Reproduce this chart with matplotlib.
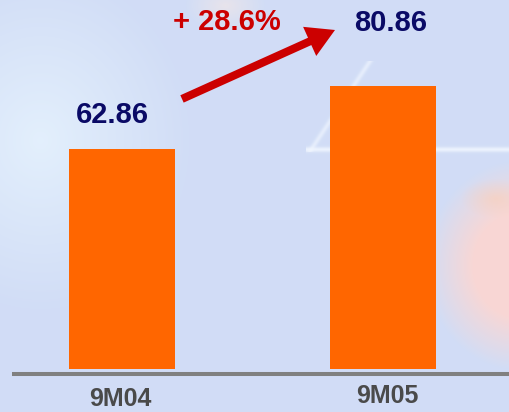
import numpy as np
import matplotlib
matplotlib.use("Agg")
import matplotlib.pyplot as plt
from matplotlib.patches import FancyArrowPatch

categories = ["9M04", "9M05"]
values = [62.86, 80.86]
value_labels = ["62.86", "80.86"]
growth_label = "+ 28.6%"

W, H = 510, 412
fig = plt.figure(figsize=(W / 100, H / 100), dpi=100)
ax = fig.add_axes([0, 0, 1, 1])

# data-space layout: bar centres at x=0,1 ; 3.5 px per unit
px_per_x = 261.5
px_per_y = 3.5
x0_px = 122
base_px = 369
xmin = -x0_px / px_per_x
xmax = xmin + W / px_per_x
ymin = -(H - base_px) / px_per_y
ymax = ymin + H / px_per_y
ax.set_xlim(xmin, xmax)
ax.set_ylim(ymin, ymax)
ax.axis("off")

# decorative background
yy, xx = np.mgrid[0:H, 0:W].astype(float)
img = np.ones((H, W, 3)) * np.array([0.82, 0.866, 0.965])
def blend(img, mask, col, a):
    m = (mask * a)[..., None]
    return img * (1 - m) + np.array(col)[None, None, :] * m
# light glow on left
d = np.sqrt(((xx - 40) / 150.0) ** 2 + ((yy - 140) / 170.0) ** 2)
img = blend(img, np.clip(1 - d, 0, 1), [0.92, 0.97, 1.0], 0.7)
# pink blob on right
d = np.sqrt(((xx - 520) / 95.0) ** 2 + ((yy - 265) / 105.0) ** 2)
img = blend(img, np.clip(2.0 * (1 - d), 0, 1), [0.99, 0.84, 0.82], 0.9)
d = np.sqrt(((xx - 495) / 35.0) ** 2 + ((yy - 198) / 20.0) ** 2)
img = blend(img, np.clip(1 - d, 0, 1), [1.0, 0.80, 0.68], 0.5)
# soft glow near top
d = np.sqrt(((xx - 225) / 40.0) ** 2 + ((yy - 5) / 25.0) ** 2)
img = blend(img, np.clip(1 - d, 0, 1), [1.0, 0.92, 0.88], 0.5)
# white streaks
streak = np.exp(-((yy - 149) / 2.5) ** 2) * (xx > 305)
img = blend(img, streak, [0.95, 0.97, 1.0], 0.8)
dist = np.abs((yy - 150) + (xx - 310) * 1.5) / np.sqrt(1 + 1.5 ** 2)
streak2 = np.exp(-(dist / 2.5) ** 2) * (yy < 152) * (yy > 60)
img = blend(img, streak2, [0.95, 0.97, 1.0], 0.6)
img = np.clip(img, 0, 1)
ax.imshow(img, extent=[xmin, xmax, ymin, ymax], aspect="auto", zorder=0)

x = np.arange(len(categories))
ax.bar(x, values, width=106 / px_per_x, color="#ff6600", zorder=2)

# baseline
ax.plot([xmin + 12 / px_per_x, xmax], [-5 / px_per_y] * 2, color="#808080",
        lw=2.9, solid_capstyle="butt", zorder=3)

# value labels
offsets = [(-10 / px_per_x, 34), (7.5 / px_per_x, 63)]
for xi, v, lab, (dx, dpx) in zip(x, values, value_labels, offsets):
    ax.text(xi + dx, v + dpx / px_per_y, lab, ha="center", va="center",
            fontsize=21, fontweight="bold", color="#0a0a66",
            family="Liberation Sans", zorder=4)

# category labels
cat_off = [(-2 / px_per_x, 30), (4 / px_per_x, 27)]
for xi, lab, (dx, dpx) in zip(x, categories, cat_off):
    ax.text(xi + dx, -dpx / px_per_y, lab, ha="center", va="center",
            fontsize=18, fontweight="bold", color="#4a4a4a",
            family="Liberation Sans", zorder=4)

# growth arrow
tail = (x[0] + 60 / px_per_x, values[0] + 14.3)
tip = (x[1] - 48.5 / px_per_x, values[1] + 16.0)
arrow = FancyArrowPatch(tail, tip,
                        arrowstyle="simple,head_length=20,head_width=23,tail_width=5.8",
                        color="#cc0000", lw=0, zorder=4, mutation_scale=1,
                        shrinkA=0, shrinkB=0)
ax.add_patch(arrow)
ax.text(x[0] + 105 / px_per_x, 347.5 / px_per_y,
        growth_label, ha="center", va="center", fontsize=21, fontweight="bold",
        color="#cc0000", family="Liberation Sans", zorder=4)

fig.savefig("out.png", dpi=100)
